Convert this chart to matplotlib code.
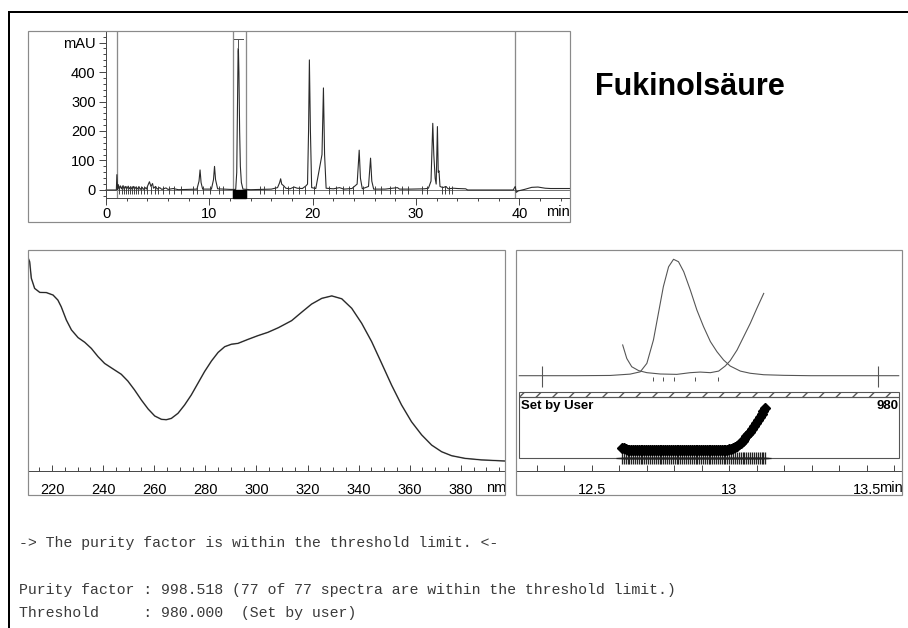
import numpy as np
import matplotlib
matplotlib.use("Agg")
import matplotlib.pyplot as plt
from matplotlib.patches import Rectangle
from matplotlib.lines import Line2D
from matplotlib.ticker import FixedLocator
from matplotlib import transforms

# ---------------------------------------------------------------- data
# DAD chromatogram, time (min) / absorbance (mAU)
chrom_time = [0.0, 1.0, 1.05, 1.12, 1.2, 1.28, 1.4, 1.5, 1.65, 1.75, 1.9, 2.0, 2.15, 2.25,
              2.4, 2.5, 2.65, 2.75, 2.9, 3.0, 3.2, 3.3, 3.5, 3.6, 3.8, 3.9, 4.2, 4.35,
              4.5, 4.6, 4.8, 4.95, 5.2, 5.4, 5.8, 6.0, 6.5, 7.0, 8.0, 8.8, 9.0, 9.1,
              9.2, 9.35, 10.2, 10.4, 10.5, 10.6, 10.8, 11.5, 12.0, 12.55, 12.65, 12.72,
              12.78, 12.81, 12.86, 12.93, 13.0, 13.1, 13.25, 14.0, 15.0, 16.0, 16.6,
              16.8, 16.9, 17.0, 17.2, 17.4, 17.8, 18.2, 18.5, 19.0, 19.35, 19.5, 19.6,
              19.68, 19.78, 19.9, 20.3, 20.9, 21.04, 21.15, 21.3, 22.0, 22.6, 23.0,
              23.8, 24.3, 24.5, 24.62, 24.8, 25.4, 25.6, 25.72, 25.9, 27.0, 28.2,
              28.4, 29.5, 30.8, 31.2, 31.45, 31.62, 31.72, 31.85, 31.95, 32.07, 32.15,
              32.22, 32.32, 32.6, 32.9, 33.1, 33.6, 34.0, 34.8, 35.0, 39.4, 39.6,
              39.7, 39.9, 40.5, 41.2, 41.8, 42.5, 43.0, 44.9]
chrom_mau = [0, 0, 52, 2, 18, 3, 14, 4, 15, 2, 12, 3, 13, 4,
             11, 3, 12, 2, 10, 3, 11, 2, 9, 2, 8, 3, 28, 12,
             22, 6, 12, 3, 8, 2, 7, 2, 5, 1, 2, 3, 30, 68,
             25, 3, 3, 35, 80, 35, 4, 3, 2, 2, 60, 300,
             470, 481, 400, 200, 80, 25, 3, 1, 2, 3, 8,
             25, 38, 20, 14, 6, 4, 10, 6, 5, 14, 20, 200,
             441, 200, 8, 5, 120, 346, 120, 6, 4, 8, 3,
             5, 20, 135, 40, 4, 12, 108, 30, 3, 3, 8,
             3, 3, 4, 6, 30, 226, 120, 40, 20, 215, 60,
             65, 12, 8, 12, 4, 6, 5, 4, 0, 0, 12,
             -8, -3, 2, 9, 10, 6, 5, 5]
# integration marks on the baseline (min)
integ_marks = [1.3, 1.5, 1.7, 1.9, 2.1, 2.3, 2.5, 2.7, 2.9, 3.1, 3.4, 3.7, 4.0, 4.4, 4.7,
               5.0, 5.5, 6.1, 6.6, 7.3, 8.4, 8.8, 9.4, 10.1, 10.9, 11.3, 14.9, 15.3,
               16.4, 17.1, 17.6, 18.1, 18.7, 19.3, 20.1, 21.6, 22.3, 22.9, 23.5, 23.9,
               24.9, 26.0, 26.6, 27.5, 28.0, 28.6, 29.2, 30.6, 31.1, 32.5, 32.8, 33.2,
               33.5]
run_markers = [1.06, 39.6]
peak_window = [12.32, 13.55]
chrom_yticks = [0, 100, 200, 300, 400, 500]
chrom_ylabels = ["0", "100", "200", "300", "400", "mAU"]
chrom_xticks = [0, 10, 20, 30, 40]

# UV spectrum at the peak, wavelength (nm) / relative absorbance
spec_nm = [210.6, 211.25, 211.9, 213.2, 215.2, 217.8, 220.4, 222.3, 223.6, 225.6,
           227.6, 230.2, 232.8, 235.4, 238.0, 240.6, 243.9, 247.1, 249.7, 252.3,
           255.0, 257.6, 260.2, 262.8, 264.7, 266.7, 269.3, 271.9, 274.5, 277.1,
           279.7, 282.4, 285.0, 287.6, 290.2, 292.8, 296.7, 300.6, 304.5, 308.6,
           313.8, 317.7, 321.6, 325.6, 329.5, 333.4, 337.3, 341.2, 345.1, 349.0,
           352.9, 356.8, 360.7, 364.7, 368.6, 372.5, 376.4, 381.6, 388.1, 397.3]
spec_abs = [96.5, 94.7, 87.2, 82.6, 80.8, 80.7, 79.6, 77.3, 74.3, 68.3,
            63.8, 60.3, 58.2, 55.4, 51.7, 48.6, 46.1, 43.7, 40.6, 36.6,
            32.0, 28.0, 24.8, 23.3, 23.1, 23.7, 26.0, 29.8, 34.3, 39.6,
            44.9, 49.7, 53.6, 56.2, 57.3, 57.7, 59.5, 61.2, 62.7, 64.8,
            68.0, 71.8, 75.5, 78.1, 79.2, 77.9, 73.6, 66.8, 58.5, 48.7,
            38.8, 29.8, 22.2, 16.2, 11.6, 8.6, 6.8, 5.6, 4.9, 4.4]
spec_ticks = [220, 240, 260, 280, 300, 320, 340, 360, 380]

# peak purity view
sig_time = [12.236, 12.445, 12.567, 12.639, 12.676, 12.700, 12.724, 12.742, 12.760,
            12.779, 12.797, 12.815, 12.834, 12.858, 12.882, 12.906, 12.931, 12.955,
            12.979, 13.003, 13.040, 13.076, 13.125, 13.198, 13.295, 13.616]
sig_val = [0, 0, 1, 6.5, 16, 51, 148, 258, 368,
           450, 481, 471, 430, 354, 271, 203, 141, 99,
           65, 40, 19, 10, 4, 1.5, 0, 0]
ref_time = [12.612, 12.627, 12.645, 12.670, 12.700, 12.749, 12.809, 12.858, 12.894,
            12.931, 12.961, 12.985, 13.003, 13.028, 13.052, 13.076, 13.100, 13.125]
ref_val = [127, 71, 37, 21, 12.5, 7, 5.5, 12.5, 15,
           12.5, 19, 40, 62, 106, 161, 216, 278, 340]
peak_limits = [12.32, 13.54]
spectra_marks = [12.722, 12.760, 12.799, 12.876, 12.960]
purity_time = [12.609, 12.616, 12.623, 12.630, 12.636, 12.643, 12.650, 12.657, 12.664,
               12.671, 12.678, 12.684, 12.691, 12.698, 12.705, 12.712, 12.719, 12.726,
               12.732, 12.739, 12.746, 12.753, 12.760, 12.767, 12.774, 12.781, 12.787,
               12.794, 12.801, 12.808, 12.815, 12.822, 12.829, 12.835, 12.842, 12.849,
               12.856, 12.863, 12.870, 12.877, 12.883, 12.890, 12.897, 12.904, 12.911,
               12.918, 12.925, 12.931, 12.938, 12.945, 12.952, 12.959, 12.966, 12.973,
               12.980, 12.986, 12.993, 13.000, 13.007, 13.014, 13.021, 13.028, 13.034,
               13.041, 13.048, 13.055, 13.062, 13.069, 13.076, 13.082, 13.089, 13.096,
               13.103, 13.110, 13.117, 13.124, 13.130]
purity_ratio = [0.175, 0.160, 0.150, 0.142, 0.138, 0.136, 0.135, 0.135, 0.135,
                0.134, 0.134, 0.134, 0.135, 0.135, 0.135, 0.134, 0.134, 0.134,
                0.135, 0.135, 0.135, 0.134, 0.134, 0.134, 0.134, 0.135, 0.135,
                0.135, 0.134, 0.134, 0.134, 0.135, 0.135, 0.135, 0.134, 0.134,
                0.134, 0.135, 0.135, 0.135, 0.135, 0.134, 0.134, 0.134, 0.135,
                0.135, 0.135, 0.135, 0.135, 0.135, 0.136, 0.136, 0.136, 0.137,
                0.137, 0.138, 0.140, 0.144, 0.152, 0.164, 0.182, 0.203, 0.226,
                0.254, 0.284, 0.318, 0.355, 0.393, 0.432, 0.472, 0.520, 0.565,
                0.615, 0.668, 0.722, 0.770, 0.810]
purity_ticks = [12.5, 13.0, 13.5]
purity_ticklabels = ["12.5", "13", "13.5"]

compound = "Fukinolsäure"
report_lines = ["-> The purity factor is within the threshold limit. <-",
                "Purity factor : 998.518 (77 of 77 spectra are within the threshold limit.)",
                "Threshold     : 980.000  (Set by user)"]
threshold_label = "980"

# ---------------------------------------------------------------- layout
W, H = 908, 628
plt.rcParams['font.family'] = ['Liberation Sans', 'DejaVu Sans']
fig = plt.figure(figsize=(W / 100, H / 100), dpi=100)
fig.patch.set_facecolor('white')


def px_rect(l, t, r, b):
    return [l / W, 1 - b / H, (r - l) / W, (b - t) / H]


FRAME = '#8a8a8a'
AXC = '#4a4a4a'
PX = 0.72  # one pixel in points

# page border (top and left)
fig.add_artist(Line2D([9 / W, 1], [1 - 12 / H, 1 - 12 / H], color='black', lw=2 * PX,
                      transform=fig.transFigure))
fig.add_artist(Line2D([9 / W, 9 / W], [1 - 12 / H, 0], color='black', lw=2 * PX,
                      transform=fig.transFigure))


def frame(ax):
    ax.add_patch(Rectangle((0, 0), 1, 1, transform=ax.transAxes, fill=False,
                           ec=FRAME, lw=1.2 * PX, clip_on=False, zorder=5))


# ---------------------------------------------------------------- chromatogram
ax1 = fig.add_axes(px_rect(28, 31, 570, 222))
ax1.set_xlim(-7.55, 44.9)
ax1.set_ylim(-108.5, 539)
frame(ax1)
for s in ('top', 'right'):
    ax1.spines[s].set_visible(False)
ax1.spines['left'].set_position(('data', 0))
ax1.spines['left'].set_bounds(-28, 539)
ax1.spines['bottom'].set_position(('data', -28))
ax1.spines['bottom'].set_bounds(0, 44.9)
for s in ('left', 'bottom'):
    ax1.spines[s].set_color(AXC)
    ax1.spines[s].set_linewidth(PX)
ax1.yaxis.set_major_locator(FixedLocator(chrom_yticks))
ax1.set_yticklabels(chrom_ylabels)
ax1.yaxis.set_minor_locator(FixedLocator([v for v in range(-20, 540, 20) if v % 100]))
ax1.xaxis.set_major_locator(FixedLocator(chrom_xticks))
ax1.set_xticklabels([str(v) for v in chrom_xticks])
ax1.xaxis.set_minor_locator(FixedLocator([v for v in range(2, 45, 2) if v % 10]))
ax1.tick_params(which='both', direction='out', color=AXC, width=PX, labelsize=10.5)
ax1.tick_params(which='major', length=5)
ax1.tick_params(which='minor', length=2.5)
ax1.tick_params(axis='x', which='major', pad=1.5)
ax1.tick_params(axis='y', which='major', pad=2.5)
ax1.text(43.75, -74, 'min', fontsize=10.5, ha='center', va='center')

ax1.hlines(0, 0, 44.9, color='#777777', lw=PX, zorder=1)
ax1.vlines(run_markers + peak_window, -28, 539, color='#8a8a8a', lw=1.3 * PX, zorder=1)
ax1.add_patch(Rectangle((peak_window[0], -28), peak_window[1] - peak_window[0], 28,
                        color='black', zorder=3))
ax1.plot(chrom_time, chrom_mau, color='#2a2a2a', lw=1.1 * PX, zorder=2)
ax1.plot([12.39, 13.23], [512, 512], color='#555555', lw=PX, zorder=2)
ax1.plot([12.81, 12.81], [481, 512], color='#555555', lw=PX, zorder=2)
ax1.plot(integ_marks, [0] * len(integ_marks), ls='none', marker='|', ms=6,
         mew=0.9 * PX, color='#333333', zorder=2)

fig.text(595 / W, 1 - 95 / H, compound, fontsize=22, fontweight='bold',
         va='baseline', ha='left')

# ---------------------------------------------------------------- spectrum
ax2 = fig.add_axes(px_rect(28, 250, 505, 495))
ax2.set_xlim(210.6, 397.3)
ax2.set_ylim(-11.0, 100)
frame(ax2)
for s in ('top', 'right', 'left'):
    ax2.spines[s].set_visible(False)
ax2.spines['bottom'].set_position(('data', 0))
ax2.spines['bottom'].set_color(AXC)
ax2.spines['bottom'].set_linewidth(PX)
ax2.set_yticks([])
ax2.xaxis.set_major_locator(FixedLocator(spec_ticks))
ax2.set_xticklabels([str(v) for v in spec_ticks])
ax2.xaxis.set_minor_locator(FixedLocator([v for v in range(215, 400, 5) if v % 20]))
ax2.tick_params(which='both', direction='in', color=AXC, width=PX, labelsize=10.5, pad=9)
ax2.tick_params(which='major', length=4)
ax2.tick_params(which='minor', length=3)
ax2.text(393.8, -7.8, 'nm', fontsize=10.5, ha='center', va='center')
ax2.plot(spec_nm, spec_abs, color='#888888', lw=1.6 * PX, zorder=2,
         solid_joinstyle='round')
ax2.plot(spec_nm, spec_abs, color='#1a1a1a', lw=0.9 * PX, zorder=3,
         solid_joinstyle='round')

# ---------------------------------------------------------------- peak purity
T0, T1 = 12.224, 13.628
ax3 = fig.add_axes(px_rect(516, 250, 902, 495))
ax3.set_xlim(T0, T1)
ax3.set_ylim(0, 1)
frame(ax3)
for s in ('top', 'right', 'left'):
    ax3.spines[s].set_visible(False)
ax3.spines['bottom'].set_position(('axes', (495 - 470.7) / 245))
ax3.spines['bottom'].set_color(AXC)
ax3.spines['bottom'].set_linewidth(PX)
ax3.set_yticks([])
ax3.xaxis.set_major_locator(FixedLocator(purity_ticks))
ax3.set_xticklabels(purity_ticklabels)
ax3.xaxis.set_minor_locator(FixedLocator([12.3, 12.4, 12.6, 12.7, 12.8, 12.9, 13.1,
                                          13.2, 13.3, 13.4, 13.6]))
ax3.tick_params(which='both', direction='in', color=AXC, width=PX, length=4,
                labelsize=10.5, pad=9)
ax3.text(13.586, (495 - 488) / 245, 'min', fontsize=10.5, ha='center', va='center',
         transform=transforms.blended_transform_factory(ax3.transData, ax3.transAxes))

ax_sig = fig.add_axes(px_rect(516, 250, 902, 396.7))
ax_sig.set_xlim(T0, T1)
ax_sig.set_ylim(-86.8, 519.4)
ax_sig.axis('off')
ax_sig.plot(sig_time, sig_val, color='#555555', lw=1.1 * PX)
ax_sig.plot(ref_time, ref_val, color='#555555', lw=1.1 * PX)
ax_sig.vlines(peak_limits, -45.5, 40, color='#555555', lw=1.1 * PX)
ax_sig.vlines(spectra_marks, -20, -4, color='#555555', lw=PX)

ax_box = fig.add_axes(px_rect(516, 391.7, 902, 458.3))
ax_box.set_xlim(T0, T1)
ax_box.set_ylim(0, 66.6 / 61.6)
ax_box.axis('off')
bt = transforms.blended_transform_factory(ax_box.transAxes, ax_box.transData)
bl, bw = 3.3 / 386, 380 / 386
ax_box.add_patch(Rectangle((bl, 0), bw, 1, transform=bt, fill=False, ec='#555555',
                           lw=1.1 * PX, clip_on=False))
ax_box.add_patch(Rectangle((bl, 1), bw, 5 / 61.6, transform=bt, fill=False,
                           ec='#555555', lw=1.1 * PX, hatch='//', clip_on=False))
ax_box.text(bl + 0.004, 0.854, 'Set by User', transform=bt, fontsize=9.5,
            fontweight='bold', ha='left', va='center')
ax_box.text(bl + bw - 0.002, 0.854, threshold_label, transform=bt, fontsize=9.5,
            fontweight='bold', ha='right', va='center')
ax_box.plot(purity_time, [0] * len(purity_time), ls='none', marker='+', ms=8,
            mew=1.3 * PX, color='#222222', clip_on=False)
ax_box.plot(purity_time, purity_ratio, ls='none', marker='D', ms=5.5, color='black',
            clip_on=False)

# ---------------------------------------------------------------- report text
mono = ['Liberation Mono', 'DejaVu Sans Mono']
for txt, y in zip(report_lines, [543, 590, 613]):
    fig.text(19 / W, 1 - y / H, txt, family=mono, fontsize=10.7, color='#3a3a3a',
             va='center', ha='left')

fig.savefig('out.png', dpi=100, facecolor='white')
